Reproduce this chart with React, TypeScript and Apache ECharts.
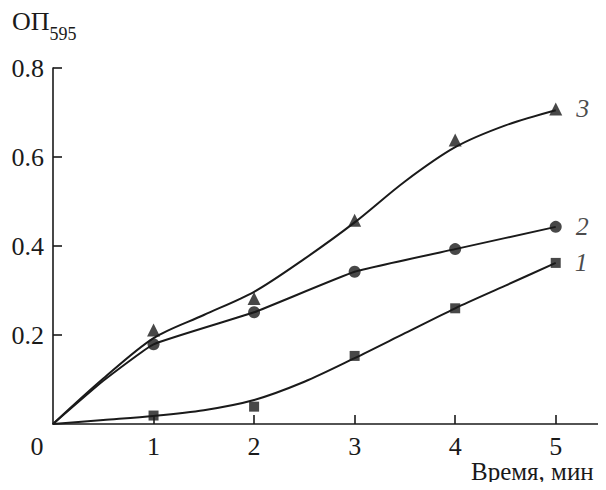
import React, { useEffect, useRef } from "react";
import * as echarts from "echarts";

const times = [1, 2, 3, 4, 5];
const tickLabels = [0, 1, 2, 3, 4, 5];
// measured points (markers)
const pts1 = [0.019, 0.039, 0.153, 0.26, 0.362];
const pts2 = [0.179, 0.251, 0.342, 0.393, 0.443];
const pts3 = [0.211, 0.282, 0.458, 0.638, 0.708];
// fitted curves
const curveX = [0, 0.5, 1, 1.5, 2, 2.5, 3, 3.5, 4, 4.5, 5];
const curve1 = [0, 0.009, 0.018, 0.031, 0.054, 0.095, 0.148, 0.204, 0.26, 0.311, 0.362];
const curve3 = [0, 0.102, 0.193, 0.245, 0.297, 0.371, 0.453, 0.545, 0.622, 0.671, 0.705];
const curve2X = [0, 0.5, 1, 2, 3, 4, 5];
const curve2 = [0, 0.097, 0.179, 0.251, 0.342, 0.393, 0.443];
const seriesNames = ["1", "2", "3"];
const xName = "Время, мин";

const FONT = "'Liberation Serif', 'Times New Roman', serif";
const INK = "#1a1a1a";
const FS = 26;

export default function App() {
  const ref = useRef<HTMLDivElement>(null);
  useEffect(() => {
    if (!ref.current) return;
    const chart = echarts.init(ref.current, undefined, { renderer: "svg" });
    const line = (xs: number[], ys: number[], smooth: number) => ({
      type: "line",
      data: xs.map((x, i) => [x, ys[i]]),
      smooth,
      showSymbol: false,
      symbol: "none",
      lineStyle: { color: INK, width: 2 },
      silent: true,
    });
    const scatter = (ys: number[], symbol: string, size: number, name: string) => ({
      type: "scatter",
      name,
      symbol,
      symbolSize: size,
      itemStyle: { color: INK },
      data: times.map((x, i) => {
        const d: any = { value: [x, ys[i]] };
        if (i === times.length - 1) {
          d.label = {
            show: true,
            position: "right",
            distance: 14,
            formatter: name,
            color: INK,
            fontFamily: FONT,
            fontStyle: "italic",
            fontSize: FS,
          };
        }
        return d;
      }),
    });
    chart.setOption({
      animation: false,
      textStyle: { fontFamily: FONT },
      grid: { left: 53, right: 0, top: 68, bottom: 66, containLabel: false },
      xAxis: {
        type: "value",
        min: 0,
        max: 5.5,
        interval: 1,
        splitLine: { show: false },
        axisLine: { lineStyle: { color: INK, width: 1.6 } },
        axisTick: {
          inside: true,
          length: 9,
          lineStyle: { color: INK, width: 1.6 },
          customValues: times,
        },
        axisLabel: {
          customValues: tickLabels,
          color: INK,
          fontFamily: FONT,
          fontSize: FS,
          lineHeight: 24,
          margin: 10,
          formatter: (v: number) => (v === 0 ? "{z|0}" : String(v)),
          rich: { z: { fontFamily: FONT, fontSize: FS, lineHeight: 24, color: INK, padding: [0, 32, 0, 0] } },
        },
      },
      yAxis: {
        type: "value",
        min: 0,
        max: 0.8,
        interval: 0.2,
        splitLine: { show: false },
        axisLine: { show: true, lineStyle: { color: INK, width: 1.6 } },
        axisTick: { show: true, inside: true, length: 9, lineStyle: { color: INK, width: 1.6 } },
        axisLabel: {
          color: INK,
          fontFamily: FONT,
          fontSize: FS,
          margin: 9,
          showMinLabel: false,
          formatter: (v: number) => (v === 0 ? "" : v.toFixed(1)),
        },
      },
      graphic: [
        {
          type: "text",
          x: 12,
          y: 8,
          style: {
            text: "{a|ОП}{b|595}",
            fill: INK,
            align: "left",
            verticalAlign: "top",
            rich: {
              a: { fontFamily: FONT, fontSize: FS, lineHeight: 28, verticalAlign: "top", fill: INK },
              b: { fontFamily: FONT, fontSize: 18, lineHeight: 35, verticalAlign: "bottom", fill: INK },
            },
          },
        },
        {
          type: "text",
          x: 471,
          y: 471,
          style: {
            text: xName,
            fill: INK,
            fontFamily: FONT,
            fontSize: 25,
            lineHeight: 20,
            align: "left",
            verticalAlign: "middle",
          },
        },
      ],
      series: [
        line(curveX, curve1, 0.3),
        line(curve2X, curve2, 0.12),
        line(curveX, curve3, 0.3),
        scatter(pts1, "rect", 10, seriesNames[0]),
        scatter(pts2, "circle", 12, seriesNames[1]),
        scatter(pts3, "triangle", 13, seriesNames[2]),
      ],
    });
    return () => chart.dispose();
  }, []);
  return <div ref={ref} style={{ width: 606, height: 490, margin: -8 }} />;
}
